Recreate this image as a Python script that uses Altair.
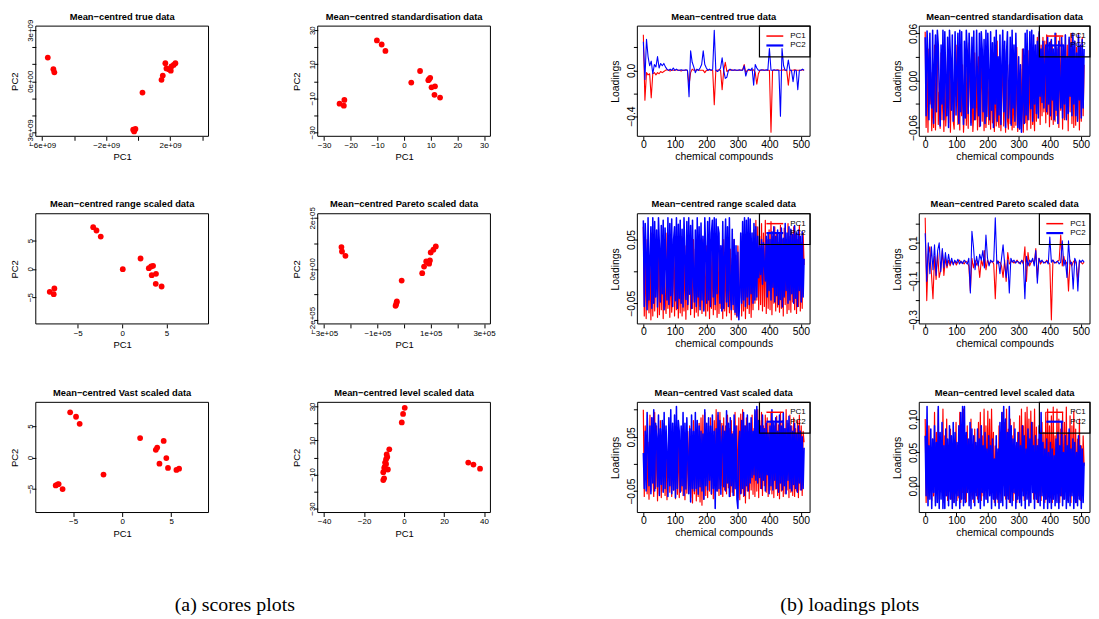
import altair as alt
import pandas as pd

FONT = "Liberation Sans"
SERIF = "Liberation Serif"
M = "\u2212"

# ---------------- text ----------------
captions = ["(a) scores plots", "(b) loadings plots"]
panel_titles = [
    f"Mean{M}centred true data",
    f"Mean{M}centred standardisation data",
    f"Mean{M}centred range scaled data",
    f"Mean{M}centred Pareto scaled data",
    f"Mean{M}centred Vast scaled data",
    f"Mean{M}centred level scaled data",
]
legend_labels = ["PC1", "PC2"]

# ---------------- scores (PC1, PC2) ----------------
true_pc1 = [-5.65e9, -5.30e9, -5.24e9, 0.27e9, -0.31e9, -0.17e9, -0.25e9, 1.46e9, 1.54e9,
            1.70e9, 1.77e9, 1.91e9, 2.04e9, 2.08e9, 2.22e9, 2.33e9]
true_pc2 = [1.39e9, 0.71e9, 0.52e9, -0.67e9, -2.85e9, -2.81e9, -2.95e9, 0.08e9, 0.33e9,
            1.06e9, 0.75e9, 0.71e9, 0.62e9, 0.87e9, 0.96e9, 1.06e9]

std_pc1 = [-10.2, -8.4, -7.0, -24.2, -22.4, -22.6, 2.7, 6.0, 9.1, 9.8, 9.4, 10.3, 11.6, 11.4, 13.5]
std_pc2 = [24.0, 21.6, 17.8, -13.2, -11.0, -14.4, -0.8, 6.0, 0.6, 2.0, 1.2, -3.6, -3.0, -8.0, -9.6]

range_pc1 = [-3.26, -2.89, -2.41, -8.15, -7.63, -7.70, 0.07, 2.07, 3.00, 3.26, 3.48, 3.33, 3.81, 3.78, 4.44]
range_pc2 = [7.35, 6.76, 5.70, -4.06, -3.47, -4.47, -0.06, 1.82, 0.12, 0.41, 0.53, -1.12, -0.88, -2.65, -3.12]

pareto_pc1 = [-2.35e5, -2.33e5, -2.20e5, -0.09e5, -0.30e5, -0.28e5, -0.27e5, -0.32e5, 0.68e5,
              0.75e5, 0.83e5, 0.90e5, 0.94e5, 0.97e5, 1.00e5, 1.10e5, 1.19e5]
pareto_pc2 = [0.855e5, 0.68e5, 0.51e5, -0.46e5, -1.40e5, -1.32e5, -1.28e5, -1.45e5, -0.17e5,
              0.09e5, 0.29e5, 0.25e5, 0.20e5, 0.33e5, 0.64e5, 0.75e5, 0.88e5]

vast_pc1 = [-5.3, -4.7, -4.33, -6.77, -6.57, -6.47, -6.07, -1.9, 1.83, 4.23, 3.43, 3.57, 4.5, 3.8,
            4.67, 5.53, 5.8]
vast_pc2 = [7.2, 6.5, 5.37, -4.47, -4.3, -4.26, -5.05, -2.74, 3.1, 2.63, 1.21, 1.58, -0.1, -1.0,
            -1.68, -2.0, -1.79]

level_pc1 = [0.33, -0.5, -1.15, -7.4, -8.7, -8.4, -9.0, -9.5, -9.9, -10.4, -10.0, -10.4, -8.1, -9.7,
             -9.0, 32.1, 34.7, 38.0]
level_pc2 = [29.2, 25.6, 20.6, 4.8, 1.8, 0.2, -1.0, -3.0, -6.2, -8.7, -12.3, -13.3, -7.1, -5.6,
             -3.8, -3.0, -4.2, -6.6]

# axis domains / ticks of the score plots
true_xdom, true_ydom = [-6.4e9, 4.4e9], [-3.24e9, 3.24e9]
true_xticks = [-6e9, -4e9, -2e9, 0, 2e9, 4e9]
true_xlabels = [f"{M}6e+09", "", f"{M}2e+09", "", "2e+09", ""]
true_yticks = [-3e9, -2e9, -1e9, 0, 1e9, 2e9, 3e9]
true_ylabels = [f"{M}3e+09", "", "", "0e+00", "", "", "3e+09"]

std_xdom, std_ydom = [-32.4, 32.4], [-32.4, 32.4]
std_xticks = [-30, -20, -10, 0, 10, 20, 30]
std_xlabels = [f"{M}30", f"{M}20", f"{M}10", "0", "10", "20", "30"]
std_yticks = [-30, -20, -10, 0, 10, 20, 30]
std_ylabels = [f"{M}30", "", f"{M}10", "", "10", "", "30"]

range_xdom, range_ydom = [-9.72, 9.72], [-9.72, 9.72]
range_xticks = [-5, 0, 5]
range_xlabels = [f"{M}5", "0", "5"]
range_yticks = [-5, 0, 5]
range_ylabels = [f"{M}5", "0", "5"]

pareto_xdom, pareto_ydom = [-3.24e5, 3.24e5], [-2.16e5, 2.16e5]
pareto_xticks = [-3e5, -2e5, -1e5, 0, 1e5, 2e5, 3e5]
pareto_xlabels = [f"{M}3e+05", "", f"{M}1e+05", "", "1e+05", "", "3e+05"]
pareto_yticks = [-2e5, -1e5, 0, 1e5, 2e5]
pareto_ylabels = [f"{M}2e+05", "", "0e+00", "", "2e+05"]

vast_xdom, vast_ydom = [-8.8, 8.8], [-8.8, 8.8]
vast_xticks = [-5, 0, 5]
vast_xlabels = [f"{M}5", "0", "5"]
vast_yticks = [-5, 0, 5]
vast_ylabels = [f"{M}5", "0", "5"]

level_xdom, level_ydom = [-43.2, 43.2], [-32.4, 32.4]
level_xticks = [-40, -20, 0, 20, 40]
level_xlabels = [f"{M}40", f"{M}20", "0", "20", "40"]
level_yticks = [-30, -20, -10, 0, 10, 20, 30]
level_ylabels = [f"{M}30", "", f"{M}10", "", "10", "", "30"]

# ---------------- loadings (values x 1000) ----------------
# sparse panels (true, Pareto): one value every 5 compounds; dense panels: every 3 compounds
load_steps = [5, 3, 3, 5, 3, 3]
load_xdom = [-19, 529]
load_xticks = [0, 100, 200, 300, 400, 500]
load_xlabels = ["0", "100", "200", "300", "400", "500"]

true_load_pc1 = [
    310, -260, -20, -40, -30, -240, -30, -20, -40, -20, -30, -10, -20, -10, 0, 5, 0, -5, 0, 0,
    0, 5, 0, 0, -5, 0, 0, 0, 0, -130, -20, 10, 0, 0, 5, 0, 0, 0, 0, -20,
    0, 0, 5, 0, 0, -300, 0, 0, 5, 0, -170, 0, 70, -10, 0, 0, 5, 0, 0, 0,
    0, 0, 0, 5, 50, -20, 0, 0, 0, 0, 5, -20, -120, -30, 0, 0, 5, 0, 0, 0,
    0, -540, 0, 0, 0, 5, 0, 0, 0, 5, 0, 0, -130, 0, 0, 0, 5, 0, 0, 0,
    0, 5, 0]
true_load_pc2 = [
    250, -80, 270, 120, 40, 80, -30, 50, 30, 120, 20, 60, 40, 60, 30, 10, 0, 10, 0, 20,
    0, 10, 0, 0, 5, 0, 0, 5, 0, -230, 170, 70, 30, -20, 10, 0, 20, 50, 170, 50,
    20, 0, 10, 0, 10, 350, 0, -10, 0, 20, 110, 0, -70, -60, 0, 10, 0, 0, 5, 0,
    0, 5, 0, 0, 40, -50, 0, 10, 0, 20, -130, 50, 20, 0, 0, 5, 0, 0, 5, 0,
    190, 0, 0, 5, 0, 0, 0, -400, 190, 40, 0, 0, 90, 0, 0, -100, 0, 0, -170, 0,
    0, 10, 0]

std_load_pc1 = [
    62, -60, 20, -66, 40, -30, 10, -64, -20, -60, 45, -63, 15, 50, -56, -15, -61, 35, -50, 5,
    -65, 20, -58, -30, 38, -54, 42, -66, 0, 25, -52, -62, 30, -20, 45, -56, 10, -63, 35, -45,
    20, -66, -35, 40, -57, 15, -61, 48, -10, -54, 25, -65, -40, 35, -50, 5, -63, 30, -59, -25,
    40, -52, 20, -64, 10, -60, -30, 30, -56, -5, -62, 25, -54, 35, -65, 15, -58, 50, -51, -60,
    30, -64, -20, 45, -58, 10, -66, 40, -50, -62, 20, -55, 35, -63, -10, -60, 28, -57, 42, -65,
    -35, -62, 15, -58, 40, -66, 25, -54, -12, -63, 38, -50, 20, -61, 45, -56, -25, -64, 30, -52,
    55, -43, 60, -56, 45, -45, 55, -40, 50, -54, 58, -43, 30, -59, 50, -50, 45, -56, 35, -52,
    60, -45, 40, -60, 55, -38, 48, -62, 30, -50, 58, -47, 45, -64, 52, -40, 60, -55, 38, -60,
    50, -57, 42, -49, 60, -63, 35, -52, 55, -45, 20]
std_load_pc2 = [
    55, -45, 63, 30, -50, 60, -20, -35, 64, -55, 20, 58, -40, 64, 45, -10, -58, 45, -30, 64,
    -50, 62, 0, -45, 55, -60, 64, 30, -38, 58, -52, -20, 62, -44, 15, 60, -55, 64, -40, 62,
    -20, -56, 50, -48, 64, 38, -42, 60, 25, -57, 55, -35, 63, -50, -10, 64, -5, -45, 60, -58,
    62, 40, -40, 52, -55, 64, -46, 60, 10, -50, 62, -38, 48, -60, 55, -30, 64, -52, 30, -44,
    58, -56, 20, 64, -40, 50, -60, 35, 62, -48, -15, 55, -57, 64, -35, 45, -52, 60, 0, -60,
    30, -62, 20, -66, -30, 40, -55, 60, -44, 64, -50, 15, 62, -36, 64, -52, 58, -30, 45, -42,
    50, -48, 62, -20, 40, -28, 50, -35, 20, 45, -40, 55, -30, 48, -45, 52, -25, 40, -50, 60,
    -38, 42, -55, 50, -10, -35, 55, -48, 45, -30, 58, -50, 30, -42, 55, -20, 48, -45, 60, -30,
    50, -45, 35, -52, 58, -25, 45, -48, 52, -35, 40]

range_load_pc1 = [
    70, -70, 30, -74, 50, -20, -65, 20, -76, 60, -70, 40, -62, -10, 35, -72, 55, -68, 25, -60,
    45, -74, 30, -40, -66, 60, -58, 40, -72, 20, -64, -30, 50, -70, 35, -60, 45, -73, 15, -65,
    55, -70, 30, -62, 40, -75, 25, -60, -20, 45, -68, 10, -58, 50, -72, 35, -64, 20, -70, 45,
    -55, 30, -66, 50, -60, 15, -70, 40, -62, 25, -74, 50, -58, 35, -68, 20, -60, 45, -72, 30,
    -66, 40, -58, 10, -74, 50, -62, 30, -70, -20, 45, -65, 35, -76, 20, -60, 50, -68, 25, -72,
    40, -64, -30, 55, -70, 30, -62, 45, -74, 20, -58, 50, -66, 35, -72, 15, -60, 65, -50, 80,
    -45, 70, -60, 55, -52, 75, -62, 60, -55, 80, -66, 50, -58, 65, -60, 78, -68, 55, -50, 70,
    -62, 60, -56, 45, -64, 72, -58, 50, -70, 68, -52, 40, -66, 75, -60, 55, -64, 62, -48, 70,
    -60, 58, -66, 50, -55, 72, -62, 45, -58, 60, 10]
range_load_pc2 = [
    80, -55, 75, 30, -60, 84, -45, 20, 70, -58, 84, -50, 78, -40, 65, -56, 84, 40, -48, 72,
    -35, 80, -60, 68, 10, -45, 84, -52, 75, -38, 82, -55, 50, 70, -46, 84, -58, 74, -42, 80,
    -50, 66, -56, 84, 20, -44, 78, -52, 84, -36, 72, -58, 80, -10, -48, 65, -55, 84, -40, 70,
    -60, 76, -45, 55, -62, 84, 30, -50, 78, -45, 84, -55, 60, 80, -40, 84, -52, 82, -35, 70,
    60, -50, 40, -62, 78, -58, 20, 82, -48, 70, -55, 84, -30, -60, 66, -52, 50, -64, 40, -70,
    30, -76, -40, 60, -50, 78, -45, 84, -55, 80, -40, 84, -52, 82, -35, 60, -50, 75, -45, 70,
    -40, 55, -10, 40, -5, 50, -20, 45, 10, -15, 55, -40, 60, -30, 50, -45, 62, -25, 70, -48,
    55, -38, 65, -52, 58, -44, 68, -56, 52, -40, 75, -30, 60, -50, 70, -45, 66, -35, 58, -50,
    72, -42, 60, -55, 65, -30, 55, -48, 62, -40, 20]

pareto_load_pc1 = [
    230, -200, 40, 80, -60, -190, 30, -90, 50, -80, -40, 60, -70, 20, -30, 10, -20, 5, -10, 5,
    -15, 0, 10, -5, 0, -10, 5, 0, -20, -150, 20, -30, 10, -15, 5, -80, 10, -20, 60, -40,
    10, -10, 0, 5, -10, -190, 10, -5, 0, -20, -80, 10, -100, 50, -10, 0, 5, -5, 0, 10,
    -5, 0, 5, -10, 80, -100, 50, -20, 0, 10, -10, 70, -80, 20, -10, 5, 0, -5, 10, 0,
    -10, -300, 10, 0, -5, 5, 10, 140, -20, 30, -10, 0, -150, 10, -20, 0, 10, -10, -100, 5,
    0, -10, 0]
pareto_load_pc2 = [
    150, -100, 100, -60, 80, -40, 90, -70, 60, 100, -50, 70, -30, 50, -20, 40, -10, 20, -15, 10,
    -5, 15, -10, 5, -8, 10, 0, -10, 20, -160, 160, 80, -40, 30, -20, 40, 10, 60, -30, 140,
    20, -20, 10, 0, 5, 230, -10, 5, -60, 20, 90, -10, -80, 10, -160, 20, 0, 10, -5, 5,
    0, -10, 10, 0, -190, 30, -20, 10, 0, 20, -20, 60, -110, 20, 0, 10, -5, 0, 5, -10,
    130, 0, 10, -5, 0, 5, -10, 0, 110, -20, 10, -80, 110, -10, 0, -140, 20, 0, -150, 10,
    0, 10, 0]

vast_load_pc1 = [
    100, -60, 70, 10, -55, 40, -65, 90, -50, 85, -20, -60, 95, -45, 70, -68, 50, -55, 80, -62,
    60, -50, 75, -58, 40, -66, -10, 65, -52, 30, -60, 70, -48, 55, -64, 45, -56, 60, -62, 35,
    -50, 65, -58, 50, -66, 40, -54, 60, -48, 70, -62, 45, -72, 80, -55, 60, -68, 50, -60, 75,
    -70, 85, -76, 90, -65, 95, -58, 70, -62, 55, -50, 85, -56, 60, -64, 80, -45, 100, -50, 90,
    -58, 95, -40, 75, -60, 85, -48, 70, -55, 90, -44, 65, -60, 80, -52, 60, -58, 95, -46, 70,
    -62, 85, -66, 92, -54, 100, -60, 70, -72, 85, -50, 60, -64, 75, -48, 90, -56, 65, -60, 98,
    -50, 100, -62, 80, -45, 95, -58, 70, -40, 90, -52, 85, -60, 75, -48, 95, -55, 80, -62, 70,
    -46, 88, -58, 72, -64, 95, -50, 80, -60, 65, -55, 100, -48, 75, -62, 90, -52, 70, -58, 85,
    -60, 65, -50, 80, -62, 90, -48, 70, -58, 60, 40]
vast_load_pc2 = [
    20, -45, 60, -50, 95, 30, -40, 70, -55, 85, -35, 100, -50, 75, 50, -42, 90, -58, 65, -38,
    80, -52, 95, -45, 70, 20, -60, 85, -40, 100, -55, 75, -48, 90, -62, 106, -45, 80, 60, -52,
    70, -40, 95, -58, 75, -46, 85, 10, -55, 65, -70, 90, -45, 60, -50, 95, -45, 80, -56, 70,
    -42, 60, -50, 55, -65, 100, -40, 75, -48, 85, -30, 70, -55, 90, -45, 60, -82, 65, -50, 95,
    -45, 80, -56, 40, 70, -42, 60, -50, 98, -35, 75, -60, 85, -40, 55, -58, 90, -45, 70, -65,
    -82, 40, 60, -55, 80, -45, 95, -58, 70, -40, 90, -50, 75, -35, 85, -25, 60, -20, 100, -30,
    106, -35, 80, -25, 70, -45, 90, -30, 65, -50, 75, -20, 55, -55, 70, -40, 100, -48, 75, -30,
    85, -45, 60, -52, 90, -35, 70, -48, 95, -40, 65, -55, 80, -30, 88, -45, 70, -50, 60, -38,
    75, -45, 55, -52, 70, -35, 60, -48, 50, -45, 30]

level_load_pc1 = [
    100, -25, 60, -20, 90, -10, 40, -22, 70, -15, 110, -25, 80, -5, 115, -20, 60, 30, -10, 115,
    -25, 75, -15, 100, -22, 50, -8, 85, -20, 40, -25, 70, -12, 95, -22, 55, -18, 110, -25, 80,
    -10, 115, -20, 60, -24, 90, -5, 70, -22, 100, -15, 50, -25, 85, -10, 60, -20, 95, -8, 110,
    -22, 75, -15, 115, 0, 90, -20, 112, 5, 100, -12, 115, 10, 80, -25, 60, -18, 50, -25, 90,
    -10, 70, -22, 110, 0, 95, -20, 115, -15, 85, -25, 100, -5, 75, -22, 95, -12, 60, -25, 80,
    -15, 105, -20, 115, -8, 90, -22, 110, 0, 118, -18, 100, -25, 112, 5, 95, -20, 115, -12, 88,
    -25, 70, -15, 60, -22, 95, -10, 80, -25, 110, -20, 115, 0, 90, -18, 105, -25, 118, -12, 75,
    -22, 115, -8, 100, -25, 85, -15, 110, -20, 95, -5, 118, -22, 80, -15, 105, -25, 90, -10, 112,
    -20, 85, -25, 70, -15, 100, -22, 60, -12, 75, 30]
level_load_pc2 = [
    75, -15, 119, -30, 60, -20, 85, -34, 70, -10, 90, -30, 65, -25, 119, -34, 80, -20, 95, -34,
    60, -34, 85, -15, 70, -30, 90, -20, 75, -34, 95, -25, 80, -30, 65, -15, 90, -34, 110, -20,
    119, -30, 119, -25, 80, -10, 70, -30, 95, -34, 85, -20, 75, -30, 65, -15, 85, -25, 70, -34,
    90, -10, 60, -30, 80, -20, 55, -25, 75, -15, 60, -34, 70, -20, 40, -30, 75, -20, 55, -34,
    95, -25, 110, -30, 119, -15, 100, -34, 80, -20, 119, -25, 90, -30, 70, -10, 85, -34, 65, -20,
    80, -25, 60, -30, 90, -15, 75, -34, 55, -20, 85, -30, 70, -25, 95, -10, 60, -34, 75, -20,
    60, -25, 90, -30, 110, -15, 65, -34, 55, -20, 70, -34, 50, -25, 65, -34, 55, -20, 45, -30,
    70, -25, 80, -34, 60, -15, 95, -30, 50, -20, 75, -34, 60, -25, 85, -30, 55, -15, 70, -34,
    65, -25, 50, -30, 75, -20, 60, -34, 55, -25, 35]

true_load_yticks = [-0.4, -0.2, 0.0, 0.2]
true_load_ylabels = [f"{M}0.4", "", "0.0", ""]
std_load_yticks = [-0.06, -0.03, 0.0, 0.03, 0.06]
std_load_ylabels = [f"{M}0.06", "", "0.00", "", "0.06"]
range_load_yticks = [-0.05, 0.0, 0.05]
range_load_ylabels = [f"{M}0.05", "", "0.05"]
pareto_load_yticks = [-0.3, -0.2, -0.1, 0.0, 0.1, 0.2]
pareto_load_ylabels = [f"{M}0.3", "", f"{M}0.1", "", "0.1", ""]
vast_load_yticks = [-0.05, 0.0, 0.05, 0.1]
vast_load_ylabels = [f"{M}0.05", "", "0.05", ""]
level_load_yticks = [0.0, 0.05, 0.1]
level_load_ylabels = ["0.00", "0.05", "0.10"]

# stroke widths (PC1, PC2) per loadings panel
load_stroke = [(1.1, 1.1), (1.2, 1.55), (1.2, 1.55), (1.1, 1.1), (1.2, 1.55), (1.2, 1.55)]

# ---------------- layout (pixels inside the drawing) ----------------
VIEW_W, VIEW_H = 1091, 611
COL_X = [28, 312, 634, 918]
COL_W = [174, 174, 174, 172]
ROW_Y = [16, 205, 395]
PANEL_H = 111
CAPTION_POS = [(228.5, 599), (848, 599)]


def lab_expr(ticks, labels):
    parts = [f"datum.value == {float(v)!r} ? '{t}'" for v, t in zip(ticks, labels)]
    return " : ".join(parts) + " : ''"


def make_axis(orient, ticks, labels, title, lsize, tsize, lpad, tpad, offset):
    kw = dict(orient=orient, offset=offset, values=ticks, labelExpr=lab_expr(ticks, labels),
              title=title, domain=False, grid=False, ticks=True, tickColor="black", tickSize=4,
              tickWidth=1, labelFont=FONT, labelFontSize=lsize, labelColor="black",
              labelPadding=lpad, labelOverlap=False, labelFlush=False, labelBound=False,
              titleFont=FONT, titleFontSize=tsize, titleFontWeight="normal", titleColor="black",
              titlePadding=tpad, minExtent=12, maxExtent=12)
    if orient == "left":
        kw.update(labelAngle=270, labelAlign="center", labelBaseline="alphabetic")
    return alt.Axis(**kw)


def score_layer(r, c, pc1, pc2, xdom, ydom, xt, xl, yt, yl):
    x0, w, y0 = COL_X[c], COL_W[c], ROW_Y[r]
    df = pd.DataFrame({"PC1": pc1, "PC2": pc2})
    xs = alt.Scale(domain=xdom, range=[x0, x0 + w], nice=False, zero=False)
    ys = alt.Scale(domain=ydom, range=[y0 + PANEL_H, y0], nice=False, zero=False)
    return alt.Chart(df).mark_circle(color="#FF0000", opacity=1, size=34).encode(
        x=alt.X("PC1:Q", scale=xs,
                axis=make_axis("bottom", xt, xl, "PC1", 8, 9.5, 1.5, 3.7,
                               y0 + PANEL_H - VIEW_H)),
        y=alt.Y("PC2:Q", scale=ys,
                axis=make_axis("left", yt, yl, "PC2", 8, 9.5, -1, 4.7, -x0)),
    )


def loading_layers(r, c, pc1, pc2, yt, yl, step, sws):
    x0, w, y0 = COL_X[c], COL_W[c], ROW_Y[r]
    allv = [v / 1000 for v in pc1 + pc2]
    lo, hi = min(allv), max(allv)
    ydom = [lo - 0.04 * (hi - lo), hi + 0.04 * (hi - lo)]
    xs = alt.Scale(domain=load_xdom, range=[x0, x0 + w], nice=False, zero=False)
    ys = alt.Scale(domain=ydom, range=[y0 + PANEL_H, y0], nice=False, zero=False)
    xa = make_axis("bottom", load_xticks, load_xlabels, "chemical compounds", 10.5, 10.5, -1, 3.1,
                   y0 + PANEL_H - VIEW_H)
    ya = make_axis("left", yt, yl, "Loadings", 10.5, 10.5, -0.8, 4.5, -x0)
    out = []
    for k, (vals, col) in enumerate([(pc1, "#FF0000"), (pc2, "#0000FF")]):
        df = pd.DataFrame({"compound": [i * step for i in range(len(vals))],
                           "loading": [v / 1000 for v in vals]})
        out.append(alt.Chart(df).mark_line(color=col, strokeWidth=sws[k], strokeJoin="round").encode(
            x=alt.X("compound:Q", scale=xs, axis=xa if k == 0 else None),
            y=alt.Y("loading:Q", scale=ys, axis=ya if k == 0 else None),
        ))
    return out


scores = [
    (true_pc1, true_pc2, true_xdom, true_ydom, true_xticks, true_xlabels, true_yticks, true_ylabels),
    (std_pc1, std_pc2, std_xdom, std_ydom, std_xticks, std_xlabels, std_yticks, std_ylabels),
    (range_pc1, range_pc2, range_xdom, range_ydom, range_xticks, range_xlabels, range_yticks, range_ylabels),
    (pareto_pc1, pareto_pc2, pareto_xdom, pareto_ydom, pareto_xticks, pareto_xlabels, pareto_yticks, pareto_ylabels),
    (vast_pc1, vast_pc2, vast_xdom, vast_ydom, vast_xticks, vast_xlabels, vast_yticks, vast_ylabels),
    (level_pc1, level_pc2, level_xdom, level_ydom, level_xticks, level_xlabels, level_yticks, level_ylabels),
]
loadings = [
    (true_load_pc1, true_load_pc2, true_load_yticks, true_load_ylabels),
    (std_load_pc1, std_load_pc2, std_load_yticks, std_load_ylabels),
    (range_load_pc1, range_load_pc2, range_load_yticks, range_load_ylabels),
    (pareto_load_pc1, pareto_load_pc2, pareto_load_yticks, pareto_load_ylabels),
    (vast_load_pc1, vast_load_pc2, vast_load_yticks, vast_load_ylabels),
    (level_load_pc1, level_load_pc2, level_load_yticks, level_load_ylabels),
]

layers = []
boxes, titles, leg_boxes, leg_lines, leg_texts = [], [], [], [], []
for i in range(6):
    r, c = divmod(i, 2)
    layers.append(score_layer(r, c, *scores[i]))
    layers.extend(loading_layers(r, c + 2, *loadings[i], load_steps[i], load_stroke[i]))
    for cc in (c, c + 2):
        x0, w, y0 = COL_X[cc], COL_W[cc], ROW_Y[r]
        boxes.append({"x": x0, "x2": x0 + w, "y": y0, "y2": y0 + PANEL_H})
        titles.append({"x": x0 + w / 2, "y": y0 - 6.5, "text": panel_titles[i]})
        if cc >= 2:
            leg_boxes.append({"x": x0 + w - 51, "x2": x0 + w, "y": y0, "y2": y0 + 31})
            for k, (col, sw, dy) in enumerate([("#FF0000", 1.5, 10), ("#0000FF", 2.2, 19.5)]):
                leg_lines.append({"x": x0 + w - 44, "x2": x0 + w - 27, "y": y0 + dy,
                                  "color": col, "sw": sw})
                leg_texts.append({"x": x0 + w - 20, "y": y0 + dy, "text": legend_labels[k]})


def px(field):
    return alt.X(f"{field}:Q", scale=None)


def py(field):
    return alt.Y(f"{field}:Q", scale=None)


layers.append(alt.Chart(pd.DataFrame(boxes)).mark_rect(
    fillOpacity=0, stroke="black", strokeWidth=1).encode(
    x=px("x"), x2="x2:Q", y=py("y"), y2="y2:Q"))
layers.append(alt.Chart(pd.DataFrame(leg_boxes)).mark_rect(
    fillOpacity=0, stroke="black", strokeWidth=1.2).encode(
    x=px("x"), x2="x2:Q", y=py("y"), y2="y2:Q"))
layers.append(alt.Chart(pd.DataFrame(leg_lines)).mark_rule().encode(
    x=px("x"), x2="x2:Q", y=py("y"),
    color=alt.Color("color:N", scale=None),
    strokeWidth=alt.StrokeWidth("sw:Q", scale=None)))
layers.append(alt.Chart(pd.DataFrame(leg_texts)).mark_text(
    font=FONT, fontSize=8, color="black", align="left", baseline="middle").encode(
    x=px("x"), y=py("y"), text="text:N"))
layers.append(alt.Chart(pd.DataFrame(titles)).mark_text(
    font=FONT, fontSize=9.4, fontWeight="bold", color="black", align="center",
    baseline="alphabetic").encode(x=px("x"), y=py("y"), text="text:N"))
layers.append(alt.Chart(pd.DataFrame({
    "x": [p[0] for p in CAPTION_POS], "y": [p[1] for p in CAPTION_POS], "text": captions})).mark_text(
    font=SERIF, fontSize=20, color="black", align="center", baseline="middle").encode(
    x=px("x"), y=py("y"), text="text:N"))

chart = alt.layer(*layers).resolve_scale(
    x="independent", y="independent"
).resolve_axis(
    x="independent", y="independent"
).properties(
    width=VIEW_W, height=VIEW_H,
    autosize=alt.AutoSizeParams(type="none"),
    padding={"left": 0, "top": 0, "right": 0, "bottom": 0},
).configure_view(strokeWidth=0)

chart.save("out.html", embed_options={"renderer": "svg", "actions": False})
